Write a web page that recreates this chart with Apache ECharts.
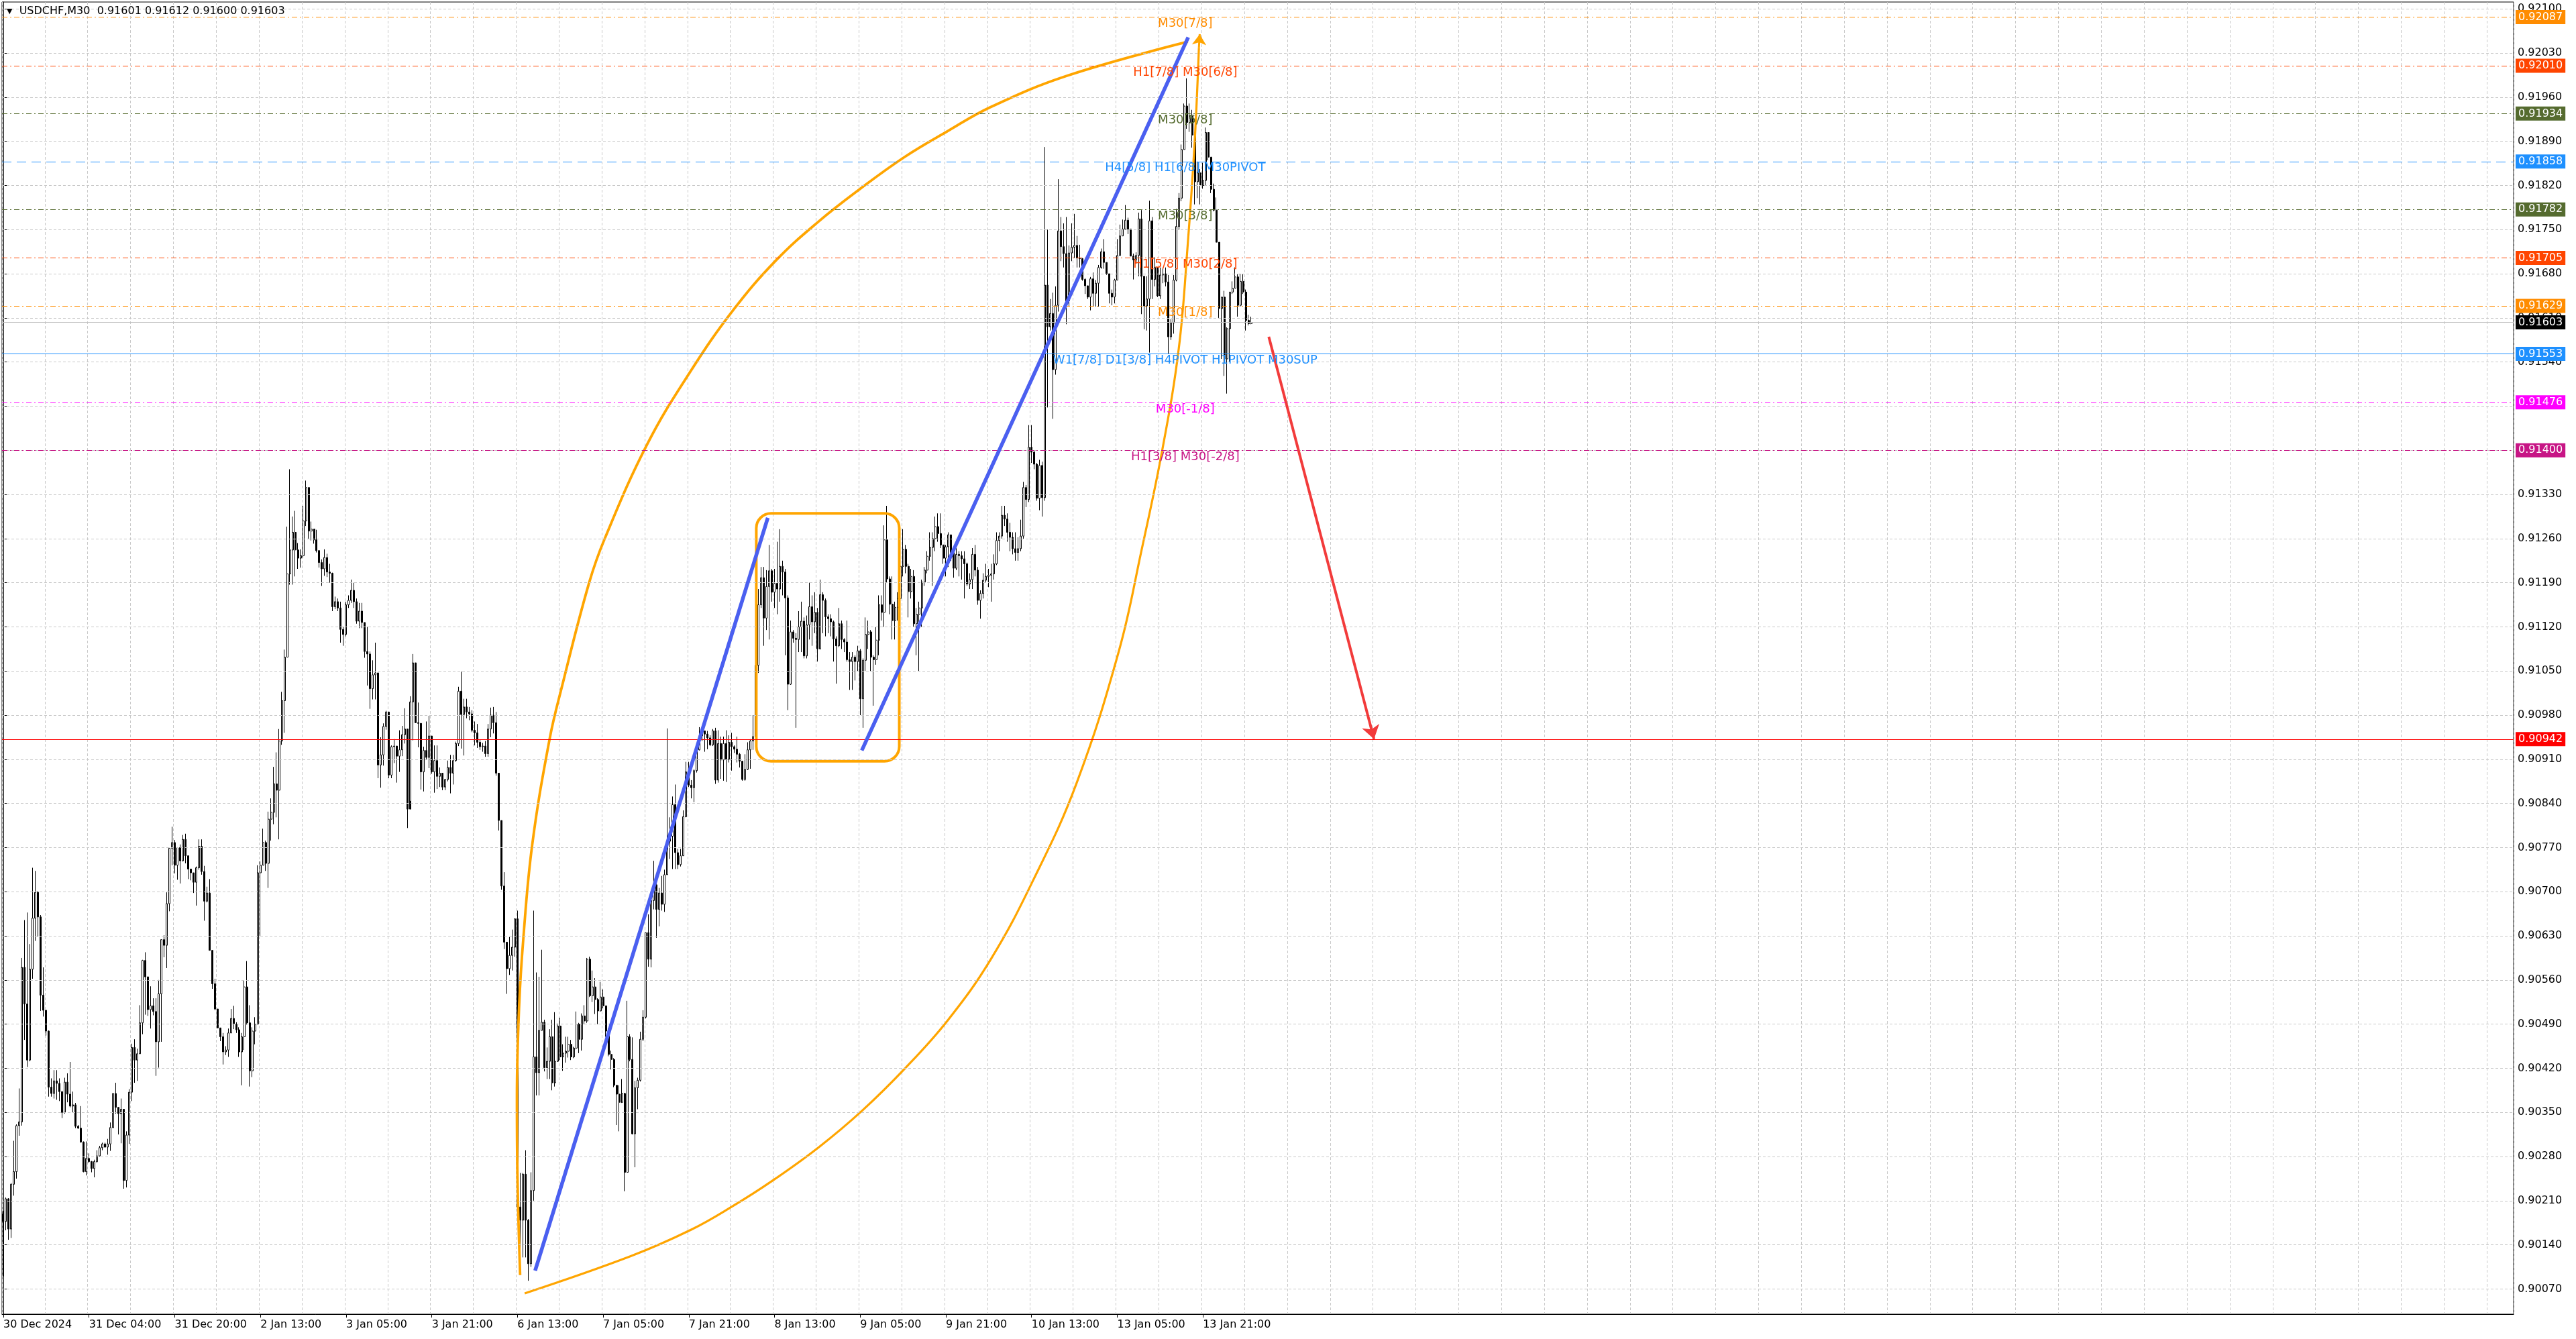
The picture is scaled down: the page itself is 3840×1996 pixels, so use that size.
<!DOCTYPE html>
<html>
<head>
<meta charset="utf-8">
<title>USDCHF,M30</title>
<script src="https://cdn.jsdelivr.net/npm/echarts@6/dist/echarts.min.js"></script>
<style>
  html, body { margin: 0; padding: 0; background: #fff; }
  #chart { width: 3840px; height: 1996px; }
</style>
</head>
<body>
<div id="chart"></div>
<script>
// prices are in points (1 point = 0.00001)
var firstOpen = 90189;

var closes = [
  90177, 90213, 90165, 90236, 90256, 90329, 90335, 90580, 90522, 90433,
  90577, 90658, 90699, 90660, 90536, 90512, 90479, 90390, 90380, 90400,
  90396, 90383, 90350, 90398, 90379, 90360, 90362, 90328, 90325, 90303,
  90256, 90277, 90272, 90261, 90272, 90281, 90294, 90300, 90295, 90300,
  90326, 90380, 90358, 90348, 90355, 90242, 90314, 90382, 90453, 90433,
  90443, 90492, 90591, 90565, 90513, 90519, 90510, 90462, 90538, 90624,
  90615, 90681, 90769, 90778, 90742, 90770, 90749, 90783, 90757, 90736,
  90730, 90715, 90738, 90772, 90732, 90685, 90698, 90607, 90554, 90514,
  90484, 90470, 90446, 90449, 90476, 90499, 90490, 90481, 90446, 90470,
  90549, 90492, 90416, 90479, 90490, 90730, 90742, 90778, 90745, 90815,
  90826, 90871, 90861, 90939, 91003, 91072, 91204, 91242, 91270, 91242,
  91229, 91233, 91288, 91341, 91272, 91275, 91258, 91241, 91222, 91212,
  91230, 91207, 91205, 91152, 91160, 91150, 91116, 91108, 91155, 91162,
  91178, 91160, 91129, 91145, 91127, 91081, 91077, 91022, 91044, 91047,
  90901, 90917, 90962, 90985, 90885, 90930, 90931, 90915, 90925, 90949,
  90958, 90831, 91001, 91063, 90968, 90967, 90890, 90924, 90913, 90947,
  90890, 90908, 90883, 90888, 90866, 90878, 90897, 90888, 90908, 90935,
  91018, 90981, 90993, 90985, 90982, 90956, 90952, 90937, 90930, 90931,
  90919, 90958, 90980, 90968, 90888, 90813, 90709, 90620, 90578, 90599,
  90612, 90657, 90200, 90179, 90252, 90179, 90110, 90226, 90438, 90413,
  90480, 90493, 90421, 90431, 90470, 90397, 90431, 90487, 90438, 90444,
  90447, 90458, 90438, 90452, 90490, 90466, 90503, 90495, 90593, 90535,
  90549, 90529, 90511, 90533, 90519, 90479, 90442, 90434, 90393, 90379,
  90366, 90380, 90255, 90470, 90434, 90316, 90389, 90401, 90466, 90501,
  90635, 90593, 90686, 90711, 90672, 90698, 90680, 90727, 90780, 90788,
  90838, 90762, 90743, 90757, 90819, 90890, 90869, 90865, 90892, 90925,
  90947, 90955, 90950, 90944, 90933, 90955, 90877, 90935, 90909, 90935,
  90910, 90937, 90930, 90926, 90918, 90907, 90878, 90894, 90925, 90939,
  90946, 91059, 91155, 91198, 91134, 91184, 91209, 91175, 91189, 91180,
  91216, 91207, 91166, 91029, 91112, 91102, 91100, 91120, 91129, 91074,
  91123, 91152, 91128, 91143, 91085, 91171, 91162, 91136, 91133, 91128,
  91101, 91090, 91125, 91100, 91096, 91068, 91065, 91072, 91065, 91082,
  91006, 91067, 91108, 91112, 91072, 91068, 91099, 91155, 91143, 91258,
  91196, 91156, 91130, 91151, 91165, 91216, 91243, 91216, 91176, 91200,
  91125, 91140, 91150, 91191, 91210, 91232, 91246, 91260, 91279, 91268,
  91250, 91229, 91247, 91266, 91238, 91213, 91235, 91233, 91228, 91220,
  91188, 91195, 91235, 91210, 91162, 91173, 91194, 91200, 91202, 91204,
  91220, 91257, 91264, 91297, 91291, 91270, 91262, 91244, 91238, 91244,
  91264, 91341, 91322, 91405, 91397, 91378, 91324, 91376, 91325, 91662,
  91596, 91617, 91528, 91630, 91748, 91723, 91712, 91637, 91713, 91722,
  91725, 91705, 91704, 91671, 91661, 91643, 91672, 91649, 91665, 91690,
  91715, 91698, 91680, 91649, 91643, 91670, 91709, 91740, 91751, 91765,
  91751, 91708, 91702, 91709, 91767, 91676, 91629, 91640, 91764, 91671,
  91690, 91645, 91678, 91680, 91667, 91580, 91602, 91670, 91755, 91800,
  91877, 91946, 91920, 91930, 91900, 91826, 91840, 91820, 91828, 91904,
  91865, 91814, 91781, 91730, 91625, 91643, 91545, 91593, 91651, 91657,
  91675, 91630, 91668, 91651, 91606, 91601, 91603
];

var highs = [
  90194, 90215, 90214, 90238, 90305, 90331, 90388, 90595, 90655, 90667,
  90617, 90738, 90733, 90701, 90663, 90580, 90512, 90480, 90404, 90417,
  90417, 90404, 90383, 90405, 90412, 90430, 90383, 90365, 90330, 90360,
  90304, 90304, 90285, 90273, 90275, 90290, 90297, 90302, 90302, 90308,
  90334, 90380, 90397, 90358, 90372, 90355, 90320, 90387, 90459, 90466,
  90451, 90520, 90592, 90604, 90565, 90550, 90531, 90531, 90560, 90624,
  90631, 90699, 90769, 90803, 90782, 90770, 90775, 90790, 90792, 90757,
  90736, 90730, 90740, 90783, 90783, 90741, 90708, 90720, 90607, 90562,
  90514, 90484, 90476, 90455, 90483, 90514, 90519, 90493, 90485, 90476,
  90559, 90590, 90520, 90485, 90501, 90742, 90748, 90800, 90781, 90827,
  90848, 90898, 90921, 90958, 91017, 91084, 91279, 91370, 91295, 91304,
  91253, 91243, 91312, 91352, 91341, 91287, 91275, 91274, 91241, 91227,
  91243, 91236, 91220, 91206, 91168, 91165, 91160, 91120, 91160, 91170,
  91195, 91190, 91165, 91158, 91158, 91127, 91120, 91081, 91067, 91095,
  91047, 90945, 90967, 90987, 90985, 90932, 90942, 90931, 90956, 90963,
  90991, 90958, 91010, 91077, 91063, 91000, 90967, 90930, 90970, 90979,
  90947, 90932, 90932, 90897, 90888, 90879, 90908, 90917, 90917, 90938,
  91025, 91049, 91006, 91006, 90993, 90988, 90970, 90966, 90941, 90936,
  90939, 90966, 90992, 90993, 90985, 90888, 90813, 90731, 90620, 90628,
  90640, 90657, 90670, 90254, 90254, 90290, 90181, 90255, 90670, 90572,
  90565, 90608, 90497, 90453, 90482, 90497, 90509, 90491, 90500, 90458,
  90470, 90470, 90465, 90454, 90510, 90492, 90507, 90520, 90595, 90597,
  90575, 90563, 90531, 90557, 90545, 90519, 90483, 90448, 90436, 90393,
  90393, 90403, 90381, 90527, 90474, 90469, 90400, 90405, 90478, 90512,
  90635, 90664, 90686, 90749, 90724, 90706, 90725, 90735, 90959, 90818,
  90851, 90870, 90768, 90768, 90829, 90906, 90906, 90877, 90894, 90927,
  90961, 90963, 90955, 90955, 90948, 90958, 90960, 90956, 90946, 90946,
  90956, 90948, 90952, 90932, 90946, 90920, 90907, 90918, 90937, 90942,
  90980, 91070, 91180, 91215, 91215, 91210, 91250, 91212, 91212, 91255,
  91275, 91225, 91212, 91170, 91130, 91115, 91110, 91145, 91160, 91135,
  91138, 91190, 91170, 91175, 91150, 91195, 91175, 91165, 91140, 91140,
  91130, 91105, 91150, 91130, 91102, 91130, 91080, 91080, 91075, 91090,
  91085, 91070, 91135, 91130, 91115, 91075, 91120, 91170, 91170, 91281,
  91312, 91200, 91200, 91160, 91175, 91230, 91275, 91250, 91220, 91212,
  91210, 91150, 91160, 91195, 91215, 91240, 91270, 91270, 91295, 91300,
  91300, 91250, 91250, 91270, 91265, 91240, 91245, 91240, 91240, 91240,
  91222, 91205, 91245, 91250, 91215, 91178, 91205, 91220, 91212, 91220,
  91235, 91270, 91270, 91312, 91312, 91300, 91285, 91270, 91270, 91262,
  91290, 91350, 91345, 91440, 91440, 91400, 91380, 91385, 91382, 91881,
  91750, 91640, 91650, 91660, 91830, 91770, 91760, 91770, 91725, 91760,
  91775, 91740, 91726, 91705, 91673, 91661, 91675, 91682, 91670, 91694,
  91720, 91735, 91698, 91680, 91655, 91672, 91735, 91758, 91766, 91789,
  91769, 91751, 91712, 91714, 91777, 91781, 91676, 91676, 91796, 91770,
  91706, 91690, 91690, 91690, 91690, 91678, 91608, 91678, 91783, 91808,
  91885, 91950, 91990, 91950, 91940, 91900, 91858, 91846, 91856, 91912,
  91904, 91865, 91823, 91801, 91630, 91643, 91653, 91595, 91651, 91668,
  91690, 91680, 91680, 91680, 91655, 91615, 91612
];

var lows = [
  90090, 90163, 90148, 90151, 90218, 90245, 90313, 90329, 90465, 90422,
  90431, 90562, 90622, 90629, 90511, 90502, 90472, 90375, 90375, 90372,
  90370, 90368, 90341, 90348, 90366, 90358, 90350, 90325, 90324, 90302,
  90255, 90250, 90270, 90255, 90247, 90270, 90280, 90290, 90294, 90283,
  90289, 90325, 90348, 90315, 90301, 90229, 90231, 90300, 90368, 90397,
  90400, 90443, 90474, 90505, 90503, 90483, 90504, 90408, 90421, 90462,
  90596, 90579, 90669, 90742, 90729, 90719, 90713, 90748, 90745, 90720,
  90718, 90698, 90678, 90735, 90727, 90654, 90683, 90607, 90546, 90512,
  90484, 90463, 90426, 90441, 90438, 90476, 90482, 90476, 90438, 90393,
  90449, 90489, 90391, 90406, 90458, 90489, 90630, 90742, 90733, 90706,
  90781, 90807, 90818, 90783, 90933, 90952, 91072, 91187, 91187, 91200,
  91212, 91214, 91230, 91280, 91260, 91257, 91252, 91238, 91214, 91185,
  91201, 91199, 91190, 91145, 91148, 91145, 91095, 91090, 91105, 91150,
  91158, 91150, 91125, 91118, 91118, 91071, 91027, 90990, 91005, 91005,
  90880, 90865, 90900, 90957, 90880, 90880, 90904, 90873, 90890, 90915,
  90935, 90801, 90844, 90940, 90968, 90929, 90862, 90859, 90910, 90896,
  90887, 90857, 90863, 90866, 90861, 90861, 90875, 90856, 90870, 90906,
  90931, 90927, 90916, 90975, 90972, 90953, 90932, 90928, 90925, 90922,
  90914, 90914, 90945, 90951, 90884, 90797, 90703, 90609, 90538, 90568,
  90575, 90597, 90180, 90115, 90120, 90120, 90083, 90105, 90210, 90377,
  90377, 90480, 90415, 90403, 90403, 90385, 90391, 90430, 90433, 90416,
  90429, 90437, 90433, 90436, 90450, 90444, 90448, 90490, 90492, 90533,
  90525, 90506, 90490, 90510, 90515, 90470, 90439, 90418, 90390, 90330,
  90320, 90365, 90225, 90255, 90431, 90315, 90263, 90355, 90399, 90463,
  90499, 90581, 90580, 90672, 90627, 90645, 90670, 90668, 90727, 90752,
  90736, 90736, 90736, 90740, 90757, 90818, 90866, 90848, 90842, 90889,
  90924, 90939, 90922, 90926, 90931, 90931, 90871, 90873, 90879, 90876,
  90874, 90905, 90892, 90920, 90905, 90897, 90876, 90876, 90893, 90895,
  90925, 90940, 91047, 91150, 91090, 91115, 91100, 91160, 91150, 91140,
  91160, 91170, 91075, 90988, 91028, 91095, 90960, 91080, 91080, 91070,
  91070, 91100, 91090, 91110, 91065, 91085, 91110, 91105, 91110, 91105,
  91065, 91030, 91088, 91085, 91080, 91065, 91020, 91020, 91035, 91050,
  90980, 90960, 91050, 91085, 91050, 90995, 91060, 91075, 91130, 91120,
  91190, 91140, 91100, 91100, 91130, 91160, 91200, 91205, 91135, 91165,
  91120, 91075, 91050, 91120, 91185, 91205, 91225, 91185, 91240, 91255,
  91245, 91220, 91200, 91215, 91225, 91198, 91210, 91200, 91195, 91165,
  91185, 91180, 91180, 91200, 91155, 91133, 91165, 91190, 91183, 91160,
  91195, 91218, 91240, 91260, 91280, 91255, 91240, 91235, 91225, 91225,
  91240, 91260, 91310, 91318, 91380, 91370, 91320, 91305, 91295, 91320,
  91468, 91590, 91450, 91520, 91620, 91700, 91690, 91600, 91629, 91700,
  91705, 91690, 91690, 91669, 91648, 91640, 91622, 91628, 91628, 91628,
  91688, 91688, 91678, 91633, 91630, 91633, 91670, 91709, 91740, 91750,
  91743, 91708, 91671, 91696, 91676, 91616, 91592, 91590, 91555, 91640,
  91660, 91643, 91640, 91665, 91660, 91553, 91575, 91585, 91668, 91750,
  91795, 91877, 91910, 91905, 91880, 91790, 91800, 91790, 91815, 91820,
  91860, 91808, 91779, 91730, 91610, 91545, 91518, 91490, 91540, 91648,
  91657, 91612, 91628, 91648, 91590, 91598, 91600
];

// time axis: bar index of each label
var tickBars = [0, 32, 64, 96, 128, 160, 192, 224, 256, 288, 320, 352, 384, 416, 448];
var tickLabels = ['30 Dec 2024', '31 Dec 04:00', '31 Dec 20:00', '2 Jan 13:00', '3 Jan 05:00',
  '3 Jan 21:00', '6 Jan 13:00', '7 Jan 05:00', '7 Jan 21:00', '8 Jan 13:00', '9 Jan 05:00',
  '9 Jan 21:00', '10 Jan 13:00', '13 Jan 05:00', '13 Jan 21:00'];

var priceTicks = [90070, 90140, 90210, 90280, 90350, 90420, 90490, 90560, 90630, 90700,
  90770, 90840, 90910, 90980, 91050, 91120, 91190, 91260, 91330, 91400,
  91470, 91540, 91610, 91680, 91750, 91820, 91890, 91960, 92030, 92100];

// Murrey-style levels drawn as horizontal lines
var levelPrices = [92087, 92010, 91934, 91858, 91782, 91705, 91629, 91603, 91553, 91476, 91400, 90942];
var levelTexts = ['M30[7/8]', 'H1[7/8] M30[6/8]', 'M30[5/8]', 'H4[5/8] H1[6/8] M30PIVOT', 'M30[3/8]',
  'H1[5/8] M30[2/8]', 'M30[1/8]', '', 'W1[7/8] D1[3/8] H4PIVOT H1PIVOT M30SUP', 'M30[-1/8]',
  'H1[3/8] M30[-2/8]', ''];

// hand drawn objects, [bar position, price]
var trendLine1 = [[198.6, 90099], [285.5, 91293]];
var trendLine2 = [[320.6, 90924], [442.5, 92055]];
var boxCorners = [[281.2, 91300, 334.6, 90907]];
var arcUpper = [[193.0, 90092], [192.0, 90250], [191.8, 90373], [192.6, 90516], [194.2, 90626],
  [197.5, 90774], [204.0, 90942], [208.6, 91025], [218.7, 91189], [224.6, 91260],
  [240.5, 91410], [256.6, 91525], [272.5, 91622], [288.5, 91701], [304.5, 91763],
  [320.4, 91816], [336.5, 91865], [352.6, 91906], [368.5, 91944], [397.2, 91994], [442.4, 92048]];
var arcLower = [[194.7, 90063], [234.3, 90122], [256.9, 90164], [271.9, 90200],
  [287.0, 90241], [304.6, 90295], [320.8, 90353], [336.8, 90420], [352.7, 90496],
  [368.8, 90593], [384.7, 90719], [400.8, 90872], [416.7, 91083], [425.0, 91240],
  [432.8, 91400], [439.0, 91562], [442.3, 91725], [444.9, 91888], [446.5, 92038]];
var arcArrowTip = [446.8, 92060];
var arrowDown = [[472.6, 91580], [511.9, 90942]];

// ---- styles ----
var FONT = '"DejaVu Sans", sans-serif';
var SLOTS = 938;
var LABEL_X = 441.4;
var DASH_DOT = [8, 4, 2, 4];
var LONG_DASH = [14, 8];
var levelColors = ['#ff8c00', '#ff4500', '#556b2f', '#1e90ff', '#556b2f', '#ff4500', '#ff8c00',
  '#000000', '#1e90ff', '#ff00ff', '#c71585', '#ff0000'];
var levelLineColors = levelColors.slice();
levelLineColors[7] = '#c0c0c0';
var levelDash = [DASH_DOT, DASH_DOT, DASH_DOT, LONG_DASH, DASH_DOT, DASH_DOT, DASH_DOT,
  'solid', 'solid', DASH_DOT, DASH_DOT, 'solid'];

function fmt(v) { return (v / 100000).toFixed(5); }

var candles = closes.map(function (c, i) {
  var o = i === 0 ? firstOpen : closes[i - 1];
  return [o, c, lows[i], highs[i]];
});
var categories = [];
for (var k = 0; k < SLOTS; k++) categories.push(String(k));

var labelItems = [];
levelPrices.forEach(function (p, i) {
  if (levelTexts[i]) labelItems.push({ value: [LABEL_X, p], text: levelTexts[i], color: levelColors[i] });
});

var last = closes.length - 1;
var header = fmt(closes[last - 1]) + ' ' + fmt(highs[last]) + ' ' + fmt(lows[last]) + ' ' + fmt(closes[last]);

var chart = echarts.init(document.getElementById('chart'), null, { renderer: 'canvas' });

chart.setOption({
  animation: false,
  backgroundColor: '#ffffff',
  grid: { left: 3, right: 93, top: 3, bottom: 37, show: true, borderColor: '#000', borderWidth: 1 },
  graphic: [{
    type: 'text', left: 10, top: 9, z: 100,
    style: {
      text: '{a|▼}  USDCHF,M30  ' + header,
      font: '16px ' + FONT, fill: '#000',
      rich: { a: { fontSize: 11, fontFamily: FONT, fill: '#000' } }
    }
  }],
  xAxis: [{
    type: 'category',
    data: categories,
    boundaryGap: true,
    axisLine: { lineStyle: { color: '#000', width: 1 } },
    axisTick: {
      show: true, alignWithLabel: true, length: 5,
      interval: function (i) { return tickBars.indexOf(i) >= 0; },
      lineStyle: { color: '#000' }
    },
    axisLabel: {
      interval: function (i) { return tickBars.indexOf(i) >= 0; },
      formatter: function (v, i) { return tickLabels[tickBars.indexOf(i)]; },
      align: 'left', margin: 8, fontSize: 16, fontFamily: FONT, color: '#000'
    },
    splitLine: {
      show: true,
      interval: function (i) { return i % 16 === 0; },
      lineStyle: { color: '#c8c8c8', type: [4, 3], width: 1 }
    }
  }, {
    type: 'value', min: -0.5, max: SLOTS - 0.5, show: false
  }],
  yAxis: {
    type: 'value', position: 'right', min: 90030, max: 92111,
    axisLine: { show: true, lineStyle: { color: '#000' } },
    axisTick: { show: true, customValues: priceTicks, length: 5, lineStyle: { color: '#000' } },
    axisLabel: {
      customValues: priceTicks, formatter: fmt,
      fontSize: 16, fontFamily: FONT, color: '#000', margin: 6
    },
    splitLine: { show: false }
  },
  series: [
    {
      // horizontal grid
      type: 'line', xAxisIndex: 1, data: [], z: 1, silent: true,
      markLine: {
        silent: true, symbol: ['none', 'none'], animation: false,
        label: { show: false },
        lineStyle: { color: '#c8c8c8', type: [4, 3], width: 1 },
        data: priceTicks.map(function (v) { return { yAxis: v }; })
      }
    },
    {
      // level lines with price boxes on the axis
      type: 'line', xAxisIndex: 1, data: [], z: 3, silent: true,
      markLine: {
        silent: true, symbol: ['none', 'none'], animation: false,
        label: {
          show: true, position: 'end', distance: 3,
          formatter: function (p) { return fmt(p.value); },
          color: '#fff', fontSize: 16, fontFamily: FONT, padding: [3, 4, 2, 4]
        },
        data: levelPrices.map(function (p, i) {
          return {
            yAxis: p,
            lineStyle: { color: levelLineColors[i], type: levelDash[i], width: 1.2 },
            label: { backgroundColor: levelColors[i] }
          };
        })
      }
    },
    {
      type: 'candlestick', data: candles, z: 2, barWidth: 2.5,
      itemStyle: {
        color: '#ffffff', color0: '#000000',
        borderColor: '#000000', borderColor0: '#000000', borderWidth: 1
      }
    },
    {
      type: 'line', xAxisIndex: 1, data: arcUpper, smooth: 0.4, z: 4,
      showSymbol: false, symbol: 'none',
      lineStyle: { color: '#ffa500', width: 3.8 }
    },
    {
      type: 'line', xAxisIndex: 1, data: arcLower, smooth: 0.4, z: 4,
      showSymbol: false, symbol: 'none',
      lineStyle: { color: '#ffa500', width: 3.2 },
      markLine: {
        silent: true, symbol: ['none', 'arrow'], symbolSize: 16, animation: false,
        label: { show: false },
        lineStyle: { color: '#ffa500', width: 3, type: 'solid' },
        data: [[{ coord: arcLower[arcLower.length - 1] }, { coord: arcArrowTip }]]
      }
    },
    {
      type: 'custom', xAxisIndex: 1, data: boxCorners, z: 4,
      dimensions: ['x0', 'y0', 'x1', 'y1'],
      encode: { x: [0, 2], y: [1, 3] },
      renderItem: function (params, api) {
        var a = api.coord([api.value(0), api.value(1)]);
        var b = api.coord([api.value(2), api.value(3)]);
        return {
          type: 'rect',
          shape: { x: a[0], y: a[1], width: b[0] - a[0], height: b[1] - a[1], r: 22 },
          style: { fill: 'none', stroke: '#ffa500', lineWidth: 4 }
        };
      }
    },
    {
      type: 'line', xAxisIndex: 1, data: trendLine1, z: 5,
      showSymbol: false, symbol: 'none',
      lineStyle: { color: '#4a5ff0', width: 5.5 }
    },
    {
      type: 'line', xAxisIndex: 1, data: trendLine2, z: 5,
      showSymbol: false, symbol: 'none',
      lineStyle: { color: '#4a5ff0', width: 5.5 }
    },
    {
      type: 'line', xAxisIndex: 1, data: [], z: 5,
      markLine: {
        silent: true, symbol: ['none', 'arrow'], symbolSize: 20, animation: false,
        label: { show: false },
        lineStyle: { color: '#f23b3b', width: 4, type: 'solid' },
        data: [[{ coord: arrowDown[0] }, { coord: arrowDown[1] }]]
      }
    },
    {
      type: 'custom', xAxisIndex: 1, z: 6, silent: true,
      data: labelItems.map(function (d) { return d.value; }),
      renderItem: function (params, api) {
        var item = labelItems[params.dataIndex];
        var pt = api.coord([api.value(0), api.value(1)]);
        return {
          type: 'text', x: pt[0], y: pt[1] + 1,
          style: {
            text: item.text, fill: item.color, font: '18px ' + FONT,
            align: 'center', verticalAlign: 'top'
          }
        };
      }
    }
  ]
});
</script>
</body>
</html>
